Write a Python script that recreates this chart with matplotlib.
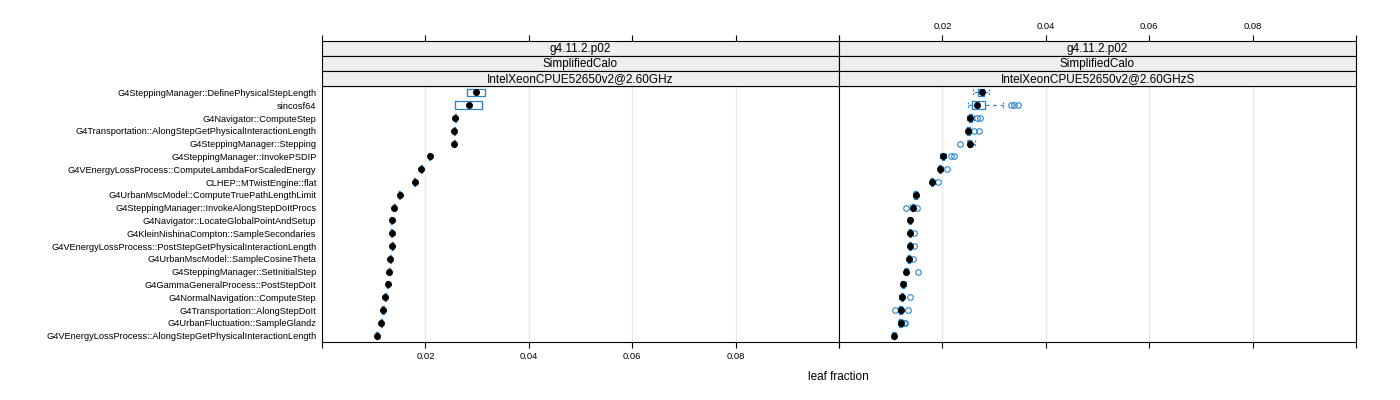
import matplotlib
matplotlib.use("Agg")
import matplotlib.pyplot as plt
import numpy as np

plt.rcParams['font.family'] = ['Liberation Sans', 'DejaVu Sans']

functions = [
    "G4SteppingManager::DefinePhysicalStepLength",
    "sincosf64",
    "G4Navigator::ComputeStep",
    "G4Transportation::AlongStepGetPhysicalInteractionLength",
    "G4SteppingManager::Stepping",
    "G4SteppingManager::InvokePSDIP",
    "G4VEnergyLossProcess::ComputeLambdaForScaledEnergy",
    "CLHEP::MTwistEngine::flat",
    "G4UrbanMscModel::ComputeTruePathLengthLimit",
    "G4SteppingManager::InvokeAlongStepDoItProcs",
    "G4Navigator::LocateGlobalPointAndSetup",
    "G4KleinNishinaCompton::SampleSecondaries",
    "G4VEnergyLossProcess::PostStepGetPhysicalInteractionLength",
    "G4UrbanMscModel::SampleCosineTheta",
    "G4SteppingManager::SetInitialStep",
    "G4GammaGeneralProcess::PostStepDoIt",
    "G4NormalNavigation::ComputeStep",
    "G4Transportation::AlongStepDoIt",
    "G4UrbanFluctuation::SampleGlandz",
    "G4VEnergyLossProcess::AlongStepGetPhysicalInteractionLength",
]

strip_version = "g4.11.2.p02"
strip_app = "SimplifiedCalo"
platforms = ["IntelXeonCPUE52650v2@2.60GHz", "IntelXeonCPUE52650v2@2.60GHzS"]

# Panel 1 (IntelXeonCPUE52650v2@2.60GHz)
p1_med = [0.0297, 0.0284, 0.0258, 0.0256, 0.0256, 0.0208, 0.0192, 0.0179, 0.0150, 0.0140,
          0.01347, 0.0135, 0.01355, 0.0132, 0.0130, 0.0127, 0.0122, 0.0118, 0.01148, 0.01064]
p1_q1 = [0.0280, 0.0258, 0.0257, 0.02545, 0.0255, 0.02065, 0.0191, 0.01778, 0.0149, 0.01385,
         0.01337, 0.0134, 0.01345, 0.0131, 0.0129, 0.01255, 0.0121, 0.0117, 0.01138, 0.01054]
p1_q3 = [0.0316, 0.0310, 0.0259, 0.02575, 0.0257, 0.02095, 0.0193, 0.01802, 0.0151, 0.01415,
         0.01357, 0.0136, 0.01365, 0.0133, 0.0131, 0.01285, 0.0123, 0.0119, 0.01158, 0.01074]
p1_wlo = p1_q1
p1_whi = p1_q3
p1_fliers = [[] for _ in range(20)]

# Panel 2 (IntelXeonCPUE52650v2@2.60GHzS)
p2_med = [0.0276, 0.0266, 0.0254, 0.0250, 0.0253, 0.0201, 0.0196, 0.0180, 0.0148, 0.0143,
          0.0138, 0.0138, 0.0138, 0.0136, 0.0130, 0.0124, 0.0121, 0.0119, 0.0119, 0.0106]
p2_q1 = [0.0268, 0.0257, 0.0251, 0.0248, 0.0250, 0.0199, 0.0194, 0.0178, 0.0146, 0.0141,
         0.0136, 0.0136, 0.0136, 0.0134, 0.0128, 0.0122, 0.0119, 0.0117, 0.0117, 0.0105]
p2_q3 = [0.0281, 0.0283, 0.0257, 0.0253, 0.0256, 0.0203, 0.0198, 0.0182, 0.0150, 0.0145,
         0.0140, 0.0140, 0.0140, 0.0138, 0.0132, 0.0126, 0.0123, 0.0121, 0.0121, 0.0108]
p2_wlo = [0.0260, 0.0250, 0.0248, 0.0245, 0.0247, 0.0196, 0.0191, 0.0176, 0.0144, 0.0138,
          0.0134, 0.0134, 0.0134, 0.0132, 0.0126, 0.0120, 0.0117, 0.0115, 0.0115, 0.0103]
p2_whi = [0.0290, 0.0318, 0.0262, 0.0256, 0.0264, 0.0206, 0.0201, 0.0185, 0.0153, 0.0147,
          0.0142, 0.0142, 0.0142, 0.0140, 0.0134, 0.0129, 0.0125, 0.0123, 0.0123, 0.0110]
p2_fliers = [[], [0.0333, 0.0339, 0.0346], [0.0267, 0.0272], [0.0262, 0.0270], [0.0235],
             [0.0217, 0.0223], [0.0208], [0.0191], [], [0.0130, 0.0151],
             [], [0.0146], [0.0146], [0.0143], [0.0152], [], [0.0138], [0.0109, 0.0133],
             [0.0125, 0.0127], []]

panels = [
    (p1_med, p1_q1, p1_q3, p1_wlo, p1_whi, p1_fliers),
    (p2_med, p2_q1, p2_q3, p2_wlo, p2_whi, p2_fliers),
]

ticks = [0.0, 0.02, 0.04, 0.06, 0.08, 0.10]
tick_labels = ["", "0.02", "0.04", "0.06", "0.08", ""]

W, H = 1400, 400
fig = plt.figure(figsize=(W / 100, H / 100), dpi=100)

def fx(px):
    return px / W

def fy(py):
    return 1 - py / H

blue = "#2a86c8"
panel_left = [322, 839]
panel_w = 517
panel_top, panel_bot = 86, 342
strip_h = 15

n = len(functions)
ypos = np.arange(n)

for i, (med, q1, q3, wlo, whi, fl) in enumerate(panels):
    L = panel_left[i]
    ax = fig.add_axes([fx(L), fy(panel_bot), panel_w / W, (panel_bot - panel_top) / H])
    stats = []
    for k in range(n):
        stats.append(dict(med=med[k], q1=q1[k], q3=q3[k], whislo=wlo[k], whishi=whi[k],
                          fliers=fl[k]))
    ax.bxp(stats, positions=ypos, vert=False, widths=0.6, showcaps=True,
           patch_artist=False, manage_ticks=False,
           boxprops=dict(color=blue, linewidth=0.9),
           whiskerprops=dict(color=blue, linewidth=0.9, linestyle=(0, (3, 3))),
           capprops=dict(color=blue, linewidth=0.9, linestyle=(0, (1.5, 1.5))),
           capwidths=0.5,
           medianprops=dict(linewidth=0),
           flierprops=dict(marker='o', markerfacecolor='none', markeredgecolor=blue,
                           markersize=4, markeredgewidth=0.8, linestyle='none'))
    ax.plot(med, ypos, 'o', color='black', markersize=4, zorder=5)
    ax.set_xlim(0, 0.1)
    ax.set_ylim(n - 0.5, -0.5)
    ax.set_xticks(ticks)
    for t in ticks[1:-1]:
        ax.axvline(t, color='#e8e8e8', linewidth=0.9, zorder=0)
    ax.tick_params(axis='x', direction='out', length=4.3, width=0.8, color='black',
                   labelsize=6.8, pad=3)
    if i == 0:
        ax.set_xticklabels(tick_labels)
        ax.set_yticks(ypos)
        ax.set_yticklabels(functions, fontsize=6.7)
        ax.tick_params(axis='y', length=0, pad=4)
    else:
        ax.set_xticklabels([""] * len(ticks))
        ax.set_yticks([])
    for s in ax.spines.values():
        s.set_linewidth(0.8)
        s.set_color('black')

    texts = [strip_version, strip_app, platforms[i]]
    for j, txt in enumerate(texts):
        top = 41 + j * strip_h
        sax = fig.add_axes([fx(L), fy(top + strip_h), panel_w / W, strip_h / H])
        sax.set_facecolor('#eeeeee')
        sax.set_xlim(0, 0.1)
        sax.set_ylim(0, 1)
        sax.set_yticks([])
        sax.text(0.05, 0.45, txt, ha='center', va='center', fontsize=8.5)
        for s in sax.spines.values():
            s.set_linewidth(0.8)
            s.set_color('black')
        if j == 0:
            sax.xaxis.tick_top()
            sax.set_xticks(ticks)
            sax.tick_params(axis='x', direction='out', length=4.3, width=0.8,
                            labelsize=6.8, pad=3)
            if i == 1:
                sax.set_xticklabels(tick_labels)
            else:
                sax.set_xticklabels([""] * len(ticks))
        else:
            sax.set_xticks([])

fig.text(fx(838), fy(377), "leaf fraction", ha='center', va='center', fontsize=8.5)

fig.savefig("out.png", dpi=100, facecolor='white')
